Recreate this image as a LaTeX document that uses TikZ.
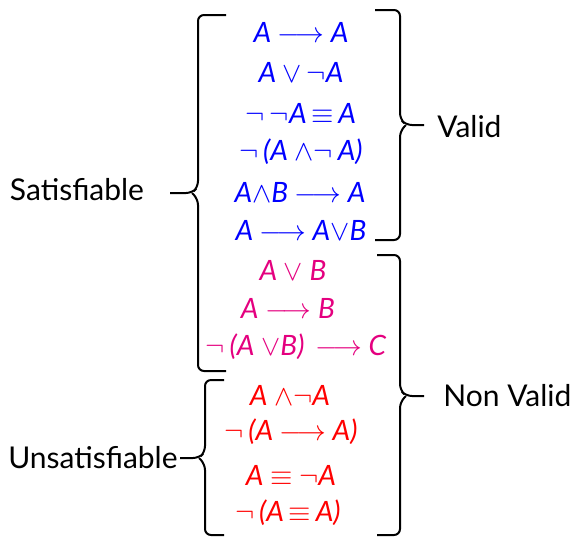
\documentclass[tikz,border=0pt]{standalone}
\usepackage{fontspec}
\setmainfont{Lato}
\usetikzlibrary{positioning}
\definecolor{pinkf}{RGB}{228,0,127}

\newcommand{\fimp}{\ensuremath{\longrightarrow}}
\newcommand{\fvee}{\ensuremath{\vee}}
\newcommand{\fwedge}{\ensuremath{\wedge}}
\newcommand{\fneg}{\ensuremath{\neg}}
\newcommand{\feqv}{\ensuremath{\equiv}}

\begin{document}
\begin{tikzpicture}[x=0.5pt,y=-0.5pt,
        formula/.style={font=\fontsize{14}{16}\selectfont\itshape, inner sep=0pt},
        validf/.style={formula, text=blue},
        contf/.style={formula, text=pinkf},
        unsatf/.style={formula, text=red},
        classname/.style={font=\fontsize{15}{18}\selectfont, inner sep=0pt},
        brace/.style={line width=1pt, rounded corners=3pt}
    ]
        \useasboundingbox (0,0) rectangle (577,538);

        % valid formulas
        \node[validf] (v1) at (301,32) {A \fimp{} A};
        \node[validf] (v2) at (301,72) {A \fvee\,\fneg A};
        \node[validf] (v3) at (301,113) {\fneg\,\fneg A\,\feqv\,A};
        \node[validf] (v4) at (301,152) {\fneg\,(A \fwedge\fneg\,A)};
        \node[validf] (v5) at (300,192) {A\fwedge B \fimp{} A};
        \node[validf] (v6) at (301,230) {A \fimp{} A\fvee B};

        % satisfiable but not valid
        \node[contf] (c1) at (293,270) {A \fvee{} B};
        \node[contf] (c2) at (288,308) {A \fimp{} B};
        \node[contf] (c3) at (296,347) {\fneg\,(A \fvee B)\, \fimp{} C};

        % unsatisfiable
        \node[unsatf] (u1) at (290,395) {A \fwedge\fneg A};
        \node[unsatf] (u2) at (291,432) {\fneg\,(A \fimp{} A)};
        \node[unsatf] (u3) at (291,475) {A \feqv{} \fneg A};
        \node[unsatf] (u4) at (288,513) {\fneg\,(A\,\feqv\,A)};

        % class names
        \node[classname] (sat) at (77,190) {Satisfiable};
        \node[classname, anchor=east] (unsat) at (178,458) {Unsatisfiable};
        \node[classname, anchor=west] (valid) at (437,127) {Valid};
        \node[classname, anchor=west] (nonvalid) at (443,396) {Non Valid};

        % braces
        \draw[brace] (226,15) -| (198,187) -- (192,193) -- (170,193);
        \draw[brace] (226,371) -| (198,199) -- (192,193);
        \draw[brace] (224,380) -| (205,452) -- (199,458) -- (180,458);
        \draw[brace] (224,535) -| (205,464) -- (199,458);
        \draw[brace] (375,10) -| (400,119) -- (406,125) -- (424,125);
        \draw[brace] (375,240) -| (400,131) -- (406,125);
        \draw[brace] (377,255) -| (400,390) -- (406,396) -- (424,396);
        \draw[brace] (377,535) -| (400,402) -- (406,396);
    \end{tikzpicture}
\end{document}
